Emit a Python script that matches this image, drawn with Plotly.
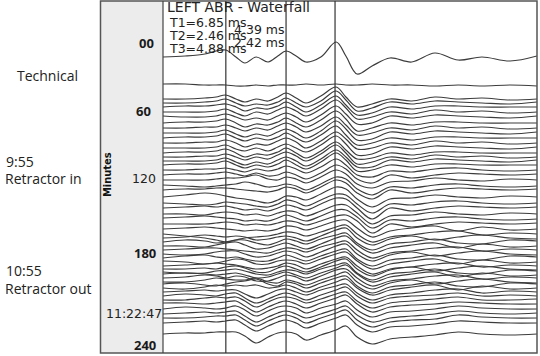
import plotly.graph_objects as go

# ---------------- data ----------------
# sample times (ms) along every sweep
time_ms = [0, 0.59, 1.12, 1.42, 1.68, 1.95, 2.19, 2.49, 2.81, 3.07, 3.29, 3.56, 3.82,
           4.22, 4.63, 4.89, 5.19, 5.59, 6.07, 6.65, 7.27, 7.89, 8.53, 9.28, 10.0]

# cursor positions (ms)
cursor_ms = [1.68, 3.29, 4.60]

# first (reference) sweep and the flat "technical" sweep, display rows
first_sweep = [57, 56, 54, 51, 50, 57, 63, 57, 62, 56, 51, 56, 62, 57, 42, 56, 74, 66, 58, 62, 53, 60, 57, 61, 56]
flat_sweep = [84, 84, 85, 85, 85, 86, 86, 85, 86, 85, 85, 85, 84, 85, 84, 85, 85, 84, 85, 85, 86, 85, 86, 85, 86]

# waterfall offsets of the remaining sweeps (display rows)
sweep_base = [99, 103, 107, 112, 117, 123, 128, 133, 138, 143, 148, 153, 157, 161, 165,
              170, 175, 180, 186, 190, 197, 203, 208, 214, 219, 224,
              229, 234, 238, 242, 246, 250, 254, 258, 262, 266, 269, 272, 275, 278,
              282, 285, 288, 292, 296, 300, 304, 309, 314, 318, 323, 334]

# amplitude of each sweep (upward positive) at time_ms
sweep_amp = [
    [0, 0, 1, 2, 4, 0, -3, 0, -2, 2, 6, 1, -4, 3, 12, 2, -8, -5, 0, -2, 2, 0, 1, -1, 0],
    [0, 0, 1, 2, 4, 0, -3, -1, -2, 1, 5, 0, -4, 2, 12, 3, -8, -5, 1, -1, 2, 1, 0, -1, 1],
    [0, 1, 1, 2, 3, 0, -4, -1, -2, 1, 5, 0, -5, 2, 11, 2, -8, -6, 0, -2, 1, 1, 0, 0, 0],
    [0, 0, 0, 1, 3, -1, -4, 0, -2, 2, 5, 1, -4, 3, 12, 4, -7, -5, 0, -2, 2, 0, 1, -1, 0],
    [1, 0, 0, 1, 3, 0, -3, -1, -3, 1, 4, 0, -5, 2, 11, 3, -7, -6, 1, -1, 2, 1, 0, -1, 1],
    [0, 1, 1, 2, 4, 0, -4, -1, -2, 1, 5, 0, -4, 3, 12, 4, -8, -5, 0, -2, 1, 1, 0, 0, 0],
    [0, 0, 1, 1, 3, 0, -3, 0, -2, 2, 5, 1, -4, 2, 11, 3, -7, -5, 0, -2, 2, 0, 1, -1, 0],
    [0, 0, 0, 1, 3, -1, -4, -1, -3, 1, 4, 0, -5, 2, 12, 4, -7, -6, 1, -1, 2, 1, 0, -1, 1],
    [0, 1, 1, 2, 4, 0, -3, 0, -2, 1, 5, 0, -4, 3, 12, 3, -7, -5, 0, -2, 1, 1, 0, 0, 0],
    [0, 0, 1, 1, 3, 0, -4, -1, -2, 2, 5, 1, -5, 2, 11, 4, -6, -5, 0, -2, 2, 0, 1, -1, 0],
    [0, 0, 0, 1, 3, -1, -3, 0, -3, 1, 4, 0, -4, 3, 12, 4, -7, -6, 1, -1, 2, 1, 0, -1, 1],
    [0, 1, 1, 2, 4, 0, -4, -1, -2, 1, 5, 0, -5, 2, 11, 3, -6, -5, 0, -2, 1, 1, 0, 0, 0],
    [0, 0, 1, 1, 3, 0, -3, 0, -2, 2, 5, 1, -4, 3, 12, 4, -7, -5, 0, -2, 2, 0, 1, -1, 0],
    [0, 0, 0, 1, 3, -1, -4, -1, -3, 1, 4, 0, -5, 2, 11, 4, -6, -6, 1, -1, 2, 1, 0, -1, 1],
    [0, 1, 1, 2, 4, 0, -3, 0, -2, 1, 5, 0, -4, 3, 12, 5, -6, -5, 0, -2, 1, 1, 0, 0, 0],
    [0, 0, 1, 1, 2, 0, -2, 1, -1, 1, 4, 1, -3, 3, 11, 5, -5, -7, -1, -2, 1, 2, 0, -1, 0],
    [0, 1, 1, 2, 3, 1, -1, 2, -1, 0, 3, 0, -4, 2, 10, 6, -4, -8, 0, -3, 0, 2, 1, 0, 1],
    [0, 0, 0, 1, 2, 2, 3, 5, 1, 0, 3, 1, -3, 3, 10, 6, -4, -8, -2, -1, 2, 0, -1, 1, 0],
    [1, 0, -1, 0, 1, 2, 4, 2, -1, 0, 2, 0, -4, 2, 9, 7, -3, -9, -1, -2, 1, 2, 0, -1, 0],
    [0, 1, 1, 2, 2, 1, 0, -1, -2, 0, 3, 1, -3, 3, 10, 7, -3, -9, 0, -3, 0, 2, 1, 0, 1],
    [0, 2, 4, 3, 1, -1, -2, -4, -6, -3, 1, 0, -3, 3, 10, 8, -2, -10, -2, -1, 2, 0, -1, 1, 0],
    [0, -1, -2, -1, 1, 0, -1, -3, -4, -1, 3, 1, -3, 3, 9, 8, -1, -10, -1, -2, 1, 2, 0, -1, 0],
    [0, 1, 2, 1, 2, 0, -2, -1, -3, 0, 3, 1, -2, 4, 10, 9, 0, -11, 0, -3, 0, 2, 1, 0, 1],
    [0, 0, -1, 1, 2, 1, -1, 0, -2, 1, 3, 2, -2, 3, 9, 9, 1, -10, -2, -1, 2, 0, -1, 1, 0],
    [1, 2, 3, 2, 1, 0, -2, -1, -2, 1, 4, 1, -2, 3, 9, 9, 2, -9, -1, -2, 1, 2, 0, -1, 0],
    [0, 0, 0, 1, 2, 1, -1, 0, -1, 1, 3, 2, -1, 3, 8, 9, 3, -9, 0, -3, 0, 2, 1, 0, 1],
    [0, 1, 2, 1, 0, -1, -2, -1, -2, 0, 3, 2, -1, 3, 8, 9, 1, -8, -2, 1, 3, -2, 2, -1, 0],
    [0, -2, -4, -6, -8, -6, -4, -3, -2, 0, 2, 1, -2, 2, 7, 9, 0, -8, -3, -1, 2, 3, -1, 1, 0],
    [0, 1, 3, 2, 1, 2, 1, -2, -1, 1, 2, 0, -3, 2, 8, 10, 0, -7, -1, 2, -2, 1, 3, 0, -1],
    [0, 2, 1, -1, 0, 2, 2, -1, -3, 0, 3, 1, -2, 3, 7, 9, -1, -8, -2, 0, 3, -1, -2, 2, 1],
    [0, 0, -1, 1, 3, 4, 1, -3, -2, 1, 3, 0, -3, 2, 8, 10, 1, -7, -2, 1, 3, -2, 2, -1, 0],
    [0, 1, 2, 2, 1, 0, -1, -2, -3, 0, 2, 1, -2, 3, 7, 9, 0, -8, -3, -1, 2, 3, -1, 1, 0],
    [0, -1, 0, 2, 3, 3, 0, -3, -2, 1, 3, 1, -3, 2, 8, 10, 0, -7, -1, 2, -2, 1, 3, 0, -1],
    [0, 2, 3, 1, 0, 1, -1, -3, -3, 0, 3, 0, -3, 2, 7, 9, -1, -8, -2, 0, 3, -1, -2, 2, 1],
    [1, 0, -2, -1, 1, 3, 2, -2, -2, 1, 2, 1, -2, 3, 8, 10, 1, -7, -2, 1, 3, -2, 2, -1, 0],
    [0, 1, 2, 3, 2, 1, -1, -3, -2, 0, 3, 1, -3, 2, 7, 9, 0, -8, -3, -1, 2, 3, -1, 1, 0],
    [0, 0, 1, 0, 2, 3, 1, -3, -3, 1, 3, 0, -3, 2, 8, 10, 0, -7, -1, 2, -2, 1, 3, 0, -1],
    [0, -1, -1, 1, 2, 3, 1, -2, -3, 0, 2, 1, -2, 3, 7, 9, -1, -8, -2, 0, 3, -1, -2, 2, 1],
    [1, 2, 1, 0, 1, 2, 0, -3, -2, 1, 3, 0, -3, 2, 7, 10, 1, -7, -2, 1, 3, -2, 2, -1, 0],
    [0, 1, 3, 2, 0, 2, 1, -3, -3, 0, 3, 1, -3, 2, 8, 9, 0, -8, -3, -1, 2, 3, -1, 1, 0],
    [0, 0, 2, 4, 3, 2, 2, 4, 0, -1, 2, 0, -3, 2, 7, 10, 0, -7, -1, 2, -2, 1, 3, 0, -1],
    [1, 2, 0, -1, 1, 3, 4, 6, 1, -1, 3, 1, -3, 2, 7, 9, -1, -8, -2, 0, 3, -1, -2, 2, 1],
    [0, -1, 1, 3, 2, 3, 2, 3, 0, 1, 3, 0, -4, 1, 6, 9, 0, -7, -2, 1, 3, -2, 2, -1, 0],
    [0, 1, 2, 1, 2, 2, -2, -6, -2, 2, 3, 0, -3, 2, 6, 8, -1, -8, -3, -1, 2, 3, -1, 1, 0],
    [0, 2, 1, 0, 2, 3, -2, -7, -3, 1, 3, 0, -4, 1, 6, 9, 0, -7, -2, 0, 1, 3, 0, 1, 0],
    [0, 0, 2, 3, 2, 3, -1, -7, -2, 2, 3, 1, -3, 1, 6, 8, -1, -8, -3, -1, 1, 3, 0, 0, 1],
    [1, 1, 0, 1, 2, 3, -2, -8, -3, 1, 3, 0, -4, 1, 6, 9, 0, -8, -3, -1, 0, 2, 1, 0, 0],
    [0, 2, 1, 0, 1, 3, -1, -7, -2, 2, 3, 1, -4, 1, 5, 8, -1, -8, -3, -2, 0, 3, 1, 0, 0],
    [0, 1, 2, 1, 2, 3, -2, -8, -3, 1, 3, 0, -4, 0, 5, 8, -1, -8, -4, -2, 0, 3, 1, 0, 1],
    [0, 0, 1, 2, 2, 3, -2, -8, -3, 1, 3, 0, -5, 0, 5, 8, -2, -9, -4, -2, -1, 3, 1, 0, 0],
    [0, 1, 2, 1, 2, 3, -2, -8, -3, 1, 3, 0, -5, 0, 5, 8, -2, -9, -4, -3, -1, 2, 1, 0, 0],
    [0, 1, 1, 2, 2, 2, -2, -9, -3, 1, 2, 0, -6, -1, 4, 8, -3, -10, -5, -3, -1, 2, 0, -1, 0],
]

# header texts
title_text = "LEFT ABR - Waterfall"
marker_texts = ["T1=6.85 ms", "T2=2.46 ms", "T3=4.88 ms"]
interval_texts = ["4.39 ms", "2.42 ms"]

# ---------------- figure ----------------
W, H = 540, 356
L, R, T, B = 163, 3, 1, 3
PW = W - L - R


def px(xp):
    return (xp - L) / PW


LINE = "#3c3c3c"
fig = go.Figure()

for ys in [first_sweep, flat_sweep]:
    fig.add_trace(go.Scatter(x=time_ms, y=ys, mode="lines",
                             line=dict(color=LINE, width=1.2, shape="spline", smoothing=1.0),
                             hoverinfo="skip", showlegend=False))

for base, amp in zip(sweep_base, sweep_amp):
    ys = [base - a for a in amp]
    fig.add_trace(go.Scatter(x=time_ms, y=ys, mode="lines",
                             line=dict(color=LINE, width=1.2, shape="spline", smoothing=1.0),
                             hoverinfo="skip", showlegend=False))

shapes = []
# gray label panel
shapes.append(dict(type="rect", xref="paper", yref="paper", x0=px(100), x1=0, y0=0, y1=1,
                   fillcolor="#ececec", line=dict(width=0), layer="below"))
# outer frame
shapes.append(dict(type="rect", xref="paper", yref="paper", x0=px(100.5), x1=1, y0=0, y1=1,
                   line=dict(color="#555555", width=1.5), fillcolor="rgba(0,0,0,0)"))
# separator
shapes.append(dict(type="line", xref="paper", yref="paper", x0=0, x1=0, y0=0, y1=1,
                   line=dict(color="#444444", width=1.2)))
for c in cursor_ms:
    shapes.append(dict(type="line", xref="x", yref="paper", x0=c, x1=c, y0=0, y1=1,
                       line=dict(color="#333333", width=1.2)))

ann = []
ann.append(dict(text=title_text, x=px(165), y=7, size=14))
for t, yy in zip(marker_texts, [22, 35, 48]):
    ann.append(dict(text=t, x=px(167), y=yy, size=12.5))
for t, yy in zip(interval_texts, [29, 42]):
    ann.append(dict(text=t, x=px(232), y=yy, size=12.5))
annotations = []
for a in ann:
    annotations.append(dict(text=a["text"], xref="paper", yref="y", x=a["x"], y=a["y"],
                            xanchor="left", yanchor="middle", showarrow=False,
                            font=dict(family="DejaVu Sans", size=a["size"], color="#222222")))

# minute labels on the gray panel
minute_labels = [("00", 156, 43, True), ("60", 153, 111, True), ("120", 158, 178, False),
                 ("180", 158, 253, True), ("11:22:47", 164, 313, False), ("240", 158, 345, True)]
for t, xr, yy, bold in minute_labels:
    if bold:
        f = dict(family="Open Sans", size=13, color="#1a1a1a", weight="bold")
    else:
        f = dict(family="DejaVu Sans", size=12.5, color="#222222")
    annotations.append(dict(text=t, xref="paper", yref="y", x=px(xr), y=yy, xanchor="right",
                            yanchor="middle", showarrow=False, font=f))
annotations.append(dict(text="Minutes", xref="paper", yref="y", x=px(107), y=175, textangle=-90,
                        showarrow=False, xanchor="center", yanchor="middle",
                        font=dict(family="DejaVu Sans Condensed, DejaVu Sans", size=11,
                                  color="#111111", weight="bold")))

# event labels
LF = dict(family="Open Sans", size=14, color="#222222")
annotations.append(dict(text="Technical", xref="paper", yref="y", x=px(47), y=75, xanchor="center",
                        yanchor="middle", showarrow=False, font=LF))
for t, xx, yy in [("9:55", 4, 161), ("Retractor in", 3, 178), ("10:55", 4, 270), ("Retractor out", 3, 288)]:
    annotations.append(dict(text=t, xref="paper", yref="y", x=px(xx), y=yy, xanchor="left",
                            yanchor="middle", showarrow=False, font=LF))

fig.update_layout(
    width=W, height=H,
    margin=dict(l=L, r=R, t=T, b=B, pad=0),
    paper_bgcolor="white", plot_bgcolor="white",
    xaxis=dict(range=[0, 10], visible=False, fixedrange=True),
    yaxis=dict(range=[353, 1], visible=False, fixedrange=True),
    shapes=shapes, annotations=annotations,
    showlegend=False,
)

fig.write_html("out.html", config={"displayModeBar": False},
               post_script="document.body.style.margin='0';")
